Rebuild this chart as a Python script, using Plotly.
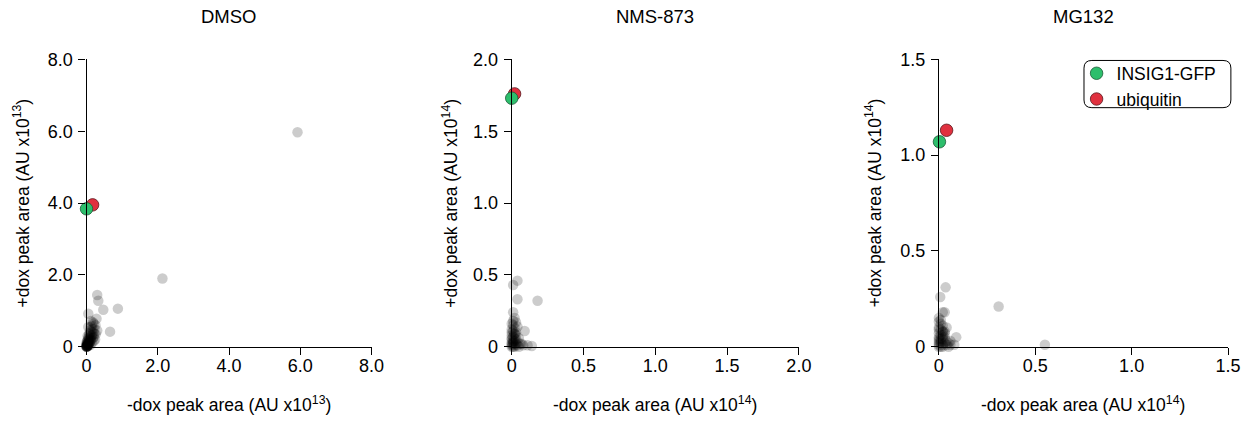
import plotly.graph_objects as go

# page size used for the figure (pixels)
W, H = 1270, 450

titles = ["DMSO", "NMS-873", "MG132"]
x_titles = ["-dox peak area (AU x10<sup>13</sup>)", "-dox peak area (AU x10<sup>14</sup>)", "-dox peak area (AU x10<sup>14</sup>)"]
y_titles = ["+dox peak area (AU x10<sup>13</sup>)", "+dox peak area (AU x10<sup>14</sup>)", "+dox peak area (AU x10<sup>14</sup>)"]

dmso_ticks = [0, 2, 4, 6, 8]
dmso_ticktext = ["0", "2.0", "4.0", "6.0", "8.0"]
nms_ticks = [0, 0.5, 1.0, 1.5, 2.0]
nms_ticktext = ["0", "0.5", "1.0", "1.5", "2.0"]
mg_ticks = [0, 0.5, 1.0, 1.5]
mg_ticktext = ["0", "0.5", "1.0", "1.5"]

# Other proteins (gray, translucent)
dmso_x = [5.92, 2.13, 0.30, 0.33, 0.47, 0.88, 0.05, 0.66, 0.28, 0.12, 0.20, 0.05,
          0.18, 0.25, 0.22, 0.15, 0.10, 0.08, 0.30, 0.26, 0.14, 0.06, 0.03, 0.02,
          0.01, 0.00, 0.00, 0.01, 0.02, 0.04, 0.07, 0.09, 0.11, 0.13, 0.16, 0.19,
          0.21, 0.24, 0.05, 0.03, 0.08, 0.10, 0.12, 0.02, 0.00, 0.01, 0.04, 0.06,
          0.15, 0.17, 0.00, 0.01, 0.02, 0.03, 0.00, 0.01, 0.05, 0.07, 0.09, 0.02,
          0.12, 0.04, 0.00, 0.06, 0.11, 0.20, 0.00, 0.03, 0.14, 0.22, 0.08, 0.18]
dmso_y = [5.97, 1.90, 1.44, 1.28, 1.03, 1.06, 0.92, 0.42, 0.78, 0.72, 0.65, 0.55,
          0.68, 0.60, 0.50, 0.58, 0.45, 0.38, 0.45, 0.35, 0.30, 0.28, 0.18, 0.10,
          0.05, 0.02, 0.00, 0.01, 0.03, 0.08, 0.15, 0.20, 0.25, 0.22, 0.32, 0.40,
          0.28, 0.20, 0.12, 0.06, 0.10, 0.14, 0.18, 0.02, 0.04, 0.08, 0.03, 0.05,
          0.12, 0.50, 0.00, 0.00, 0.01, 0.02, 0.01, 0.02, 0.04, 0.09, 0.35, 0.15,
          0.55, 0.22, 0.12, 0.18, 0.05, 0.15, 0.06, 0.30, 0.42, 0.36, 0.26, 0.24]

nms_x = [0.04, 0.01, 0.04, 0.18, 0.01, 0.09, 0.14, 0.11, 0.07, 0.02, 0.03,
         0.00, 0.01, 0.02, 0.03, 0.04, 0.00, 0.01, 0.02, 0.00, 0.01, 0.03, 0.05,
         0.00, 0.02, 0.01, 0.00, 0.04, 0.03, 0.02, 0.01, 0.00, 0.06, 0.08, 0.05,
         0.00, 0.01, 0.02, 0.00, 0.03, 0.01, 0.02, 0.00, 0.04, 0.01, 0.00, 0.02]
nms_y = [0.46, 0.43, 0.33, 0.32, 0.24, 0.11, 0.005, 0.01, 0.02, 0.20, 0.17,
         0.00, 0.00, 0.01, 0.02, 0.03, 0.05, 0.07, 0.09, 0.12, 0.15, 0.10, 0.06,
         0.02, 0.04, 0.03, 0.08, 0.01, 0.05, 0.13, 0.11, 0.16, 0.02, 0.01, 0.00,
         0.01, 0.02, 0.06, 0.10, 0.08, 0.04, 0.00, 0.03, 0.14, 0.18, 0.06, 0.09]

mg_x = [0.035, 0.007, 0.31, 0.03, 0.02, 0.09, 0.55, 0.00, 0.06, 0.08,
        0.00, 0.01, 0.02, 0.03, 0.04, 0.00, 0.01, 0.02, 0.00, 0.01, 0.03, 0.05,
        0.00, 0.02, 0.01, 0.00, 0.04, 0.03, 0.02, 0.01, 0.00, 0.06, 0.02, 0.05,
        0.00, 0.01, 0.02, 0.00, 0.03, 0.01, 0.02, 0.00, 0.04, 0.01, 0.00, 0.02]
mg_y = [0.31, 0.26, 0.21, 0.18, 0.18, 0.05, 0.01, 0.13, 0.03, 0.01,
        0.00, 0.00, 0.01, 0.02, 0.03, 0.04, 0.06, 0.08, 0.10, 0.12, 0.07, 0.02,
        0.02, 0.04, 0.03, 0.07, 0.01, 0.05, 0.11, 0.09, 0.15, 0.01, 0.06, 0.00,
        0.01, 0.02, 0.05, 0.09, 0.08, 0.04, 0.00, 0.03, 0.10, 0.14, 0.05, 0.08]

# Highlighted proteins
insig_x = [0.00, 0.00, 0.003]
insig_y = [3.84, 1.73, 1.07]
ubq_x = [0.17, 0.02, 0.04]
ubq_y = [3.95, 1.76, 1.13]

gray_x = [dmso_x, nms_x, mg_x]
gray_y = [dmso_y, nms_y, mg_y]
ranges = [[0, 8], [0, 2], [0, 1.5]]
tickvals = [dmso_ticks, nms_ticks, mg_ticks]
ticktexts = [dmso_ticktext, nms_ticktext, mg_ticktext]

GREEN = "#2DBE6C"
RED = "#E0313F"
FONT = "Liberation Sans, Arial, sans-serif"

# layout positions in page pixels
px_left = [82.7, 514.0, 947.3]
px_right = [371.9, 805.3, 1240.6]
px_top, px_bot = 51.7, 352.4
ytitle_px = [16.7, 451.0, 880.8]
title_py, xtitle_py, ytitle_py = 6.6, 411.9, 202.0

def fx(p):
    return p / W

def fy(p):
    return 1 - p / H

fig = go.Figure()
for i in range(3):
    xa = "x" if i == 0 else f"x{i+1}"
    ya = "y" if i == 0 else f"y{i+1}"
    fig.add_trace(go.Scatter(
        x=gray_x[i], y=gray_y[i], mode="markers", xaxis=xa, yaxis=ya,
        marker=dict(size=10.5, color="rgba(0,0,0,0.2)", line=dict(width=0)),
        showlegend=False, cliponaxis=False, hoverinfo="x+y"))
    fig.add_trace(go.Scatter(
        x=[ubq_x[i]], y=[ubq_y[i]], mode="markers", xaxis=xa, yaxis=ya,
        marker=dict(size=12.5, color=RED, line=dict(width=0.8, color="#5a1a1f")),
        name="ubiquitin", legendgroup="g", showlegend=(i == 2), legendrank=2,
        cliponaxis=False))
    fig.add_trace(go.Scatter(
        x=[insig_x[i]], y=[insig_y[i]], mode="markers", xaxis=xa, yaxis=ya,
        marker=dict(size=12.5, color=GREEN, line=dict(width=0.8, color="#1d5a37")),
        name="INSIG1-GFP", legendgroup="g", showlegend=(i == 2), legendrank=1,
        cliponaxis=False))

axis_common = dict(showline=True, linecolor="black", linewidth=1.2, ticks="outside",
                   ticklen=7, tickwidth=1.2, tickcolor="black", showgrid=False,
                   zeroline=False, tickfont=dict(size=18, color="black", family=FONT))

layout = dict(
    width=W, height=H, autosize=False, margin=dict(l=0, r=0, t=0, b=0, pad=0),
    paper_bgcolor="white", plot_bgcolor="white",
    font=dict(family=FONT, color="black"),
    legend=dict(x=fx(1087), y=fy(47.5), xanchor="left", yanchor="top",
                bgcolor="rgba(0,0,0,0)", borderwidth=0,
                font=dict(size=17.5, color="black", family=FONT),
                tracegroupgap=0, itemwidth=30),
    showlegend=True,
)
annotations = []
for i in range(3):
    xk = "xaxis" if i == 0 else f"xaxis{i+1}"
    yk = "yaxis" if i == 0 else f"yaxis{i+1}"
    xa = "x" if i == 0 else f"x{i+1}"
    ya = "y" if i == 0 else f"y{i+1}"
    layout[xk] = dict(domain=[fx(px_left[i]), fx(px_right[i])], range=ranges[i],
                      tickvals=tickvals[i], ticktext=ticktexts[i], anchor=ya,
                      ticklabelstandoff=-4, **axis_common)
    layout[yk] = dict(domain=[fy(px_bot), fy(px_top)], range=ranges[i],
                      tickvals=tickvals[i], ticktext=ticktexts[i], anchor=xa,
                      ticklabelstandoff=2, **axis_common)
    cx = fx((px_left[i] + px_right[i]) / 2)
    annotations.append(dict(text=titles[i], x=cx, y=fy(title_py), xref="paper", yref="paper",
                            showarrow=False, xanchor="center", yanchor="middle",
                            font=dict(size=18.5, color="black", family=FONT)))
    annotations.append(dict(text=x_titles[i], x=cx, y=fy(xtitle_py), xref="paper", yref="paper",
                            showarrow=False, xanchor="center", yanchor="middle",
                            font=dict(size=17.5, color="black", family=FONT)))
    annotations.append(dict(text=y_titles[i], x=fx(ytitle_px[i]), y=fy(ytitle_py),
                            xref="paper", yref="paper", textangle=-90,
                            showarrow=False, xanchor="center", yanchor="middle",
                            font=dict(size=17.5, color="black", family=FONT)))
layout["annotations"] = annotations

# rounded legend frame
x0, x1 = fx(1094.5), fx(1243.5)
y0, y1 = fy(102.2), fy(52.8)
rx, ry = 8 / W, 8 / H
path = (f"M {x0+rx},{y1} L {x1-rx},{y1} Q {x1},{y1} {x1},{y1-ry} "
        f"L {x1},{y0+ry} Q {x1},{y0} {x1-rx},{y0} L {x0+rx},{y0} "
        f"Q {x0},{y0} {x0},{y0+ry} L {x0},{y1-ry} Q {x0},{y1} {x0+rx},{y1} Z")
layout["shapes"] = [dict(type="path", path=path, xref="paper", yref="paper",
                         line=dict(color="black", width=1))]

fig.update_layout(**layout)
fig.write_html("out.html", config={"responsive": False, "displayModeBar": False},
               post_script="document.body.style.margin='0';document.body.style.overflow='hidden';")
